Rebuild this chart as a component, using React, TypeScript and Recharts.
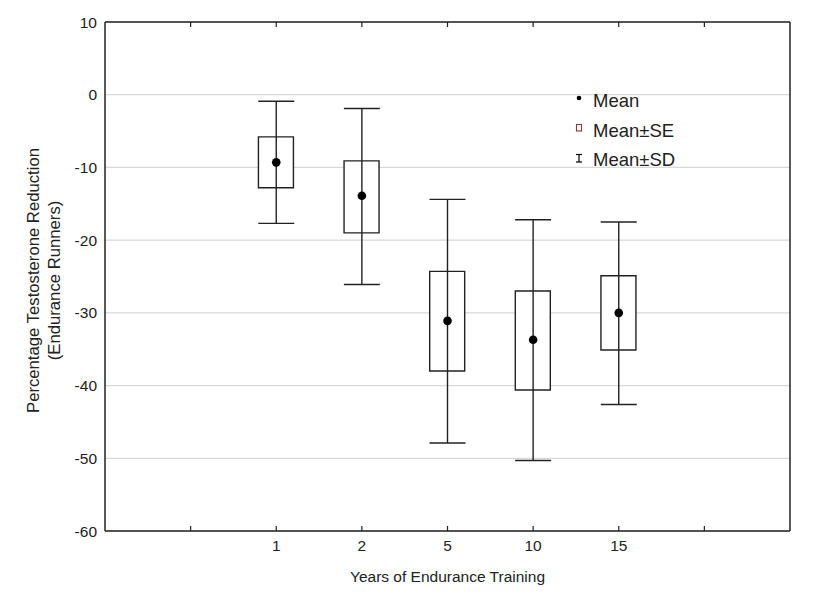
import {
  ComposedChart, Bar, Scatter, ErrorBar, XAxis, YAxis, CartesianGrid, Legend
} from 'recharts'

const years = ['1', '2', '5', '10', '15']
const means = [-9.3, -13.9, -31.1, -33.7, -30.0]
const seLow = [-12.8, -19.0, -38.0, -40.6, -35.1]
const seHigh = [-5.8, -9.1, -24.3, -27.0, -24.9]
const sdLow = [-17.7, -26.1, -47.9, -50.3, -42.6]
const sdHigh = [-0.9, -1.9, -14.4, -17.2, -17.5]
const yTicks = [10, 0, -10, -20, -30, -40, -50, -60]
const xSlots = [1, 2, 3, 4, 5, 6, 7]
const legendItems = ['Mean', 'Mean±SE', 'Mean±SD']

// first year sits on slot 2, slots 1 and 7 stay empty
const chartData = years.map((year, i) => ({
  pos: i + 2,
  year,
  mean: means[i],
  se: [seLow[i], seHigh[i]],
  sdErr: [means[i] - sdLow[i], sdHigh[i] - means[i]],
}))

const tickLabel = (v: number) => years[v - 2] ?? ''
const ink = '#222'

function BottomTick(props: any) {
  const { x, y, payload } = props
  return (
    <g>
      <line x1={x} y1={y} x2={x} y2={y - 5} stroke={ink} strokeWidth={1.2} />
      <text x={x} y={y + 20} textAnchor="middle" fontSize={15.5} fill={ink}>
        {tickLabel(payload.value)}
      </text>
    </g>
  )
}

function TopTick(props: any) {
  const { x, y } = props
  return <line x1={x} y1={y} x2={x} y2={y + 5} stroke={ink} strokeWidth={1.2} />
}

function MeanDot(props: any) {
  const { cx, cy } = props
  return <circle cx={cx} cy={cy} r={4.3} fill="#000" />
}

function NoDot() {
  return <g />
}

function YLabel(props: any) {
  const { viewBox } = props
  const cy = viewBox.y + viewBox.height / 2 + 4
  return (
    <g fontSize={16.7} fill={ink}>
      <text transform={`translate(27, ${cy}) rotate(-90)`} textAnchor="middle" dominantBaseline="middle">
        Percentage Testosterone Reduction
      </text>
      <text transform={`translate(48, ${cy}) rotate(-90)`} textAnchor="middle" dominantBaseline="middle">
        (Endurance Runners)
      </text>
    </g>
  )
}

function LegendBox() {
  return (
    <div style={{ fontSize: 18.5, color: ink, lineHeight: '29.5px' }}>
      {legendItems.map((name, i) => (
        <div key={name} style={{ display: 'flex', alignItems: 'center' }}>
          <svg width={20} height={14} style={{ marginRight: 1 }}>
            {i === 0 && <circle cx={7} cy={4} r={2.3} fill="#000" />}
            {i === 1 && <rect x={4.5} y={1.5} width={5} height={6.5} fill="none" stroke="#8b3a3a" strokeWidth={1.1} />}
            {i === 2 && (
              <g stroke="#000" strokeWidth={1.2}>
                <line x1={4} y1={1.5} x2={10} y2={1.5} />
                <line x1={7} y1={1.5} x2={7} y2={9} />
                <line x1={4} y1={9} x2={10} y2={9} />
              </g>
            )}
          </svg>
          <span>{name}</span>
        </div>
      ))}
    </div>
  )
}

export default function App() {
  return (
    <div style={{ fontFamily: '"Liberation Sans", Arial, sans-serif' }}>
      <ComposedChart
        width={816}
        height={594}
        data={chartData}
        margin={{ top: 13, right: 33, bottom: 0, left: 0 }}
      >
        <CartesianGrid vertical={false} stroke="#d9d9d9" strokeWidth={1.2} />
        <XAxis
          dataKey="pos"
          type="number"
          domain={[0, 8]}
          ticks={xSlots}
          interval={0}
          height={71}
          tickLine={false}
          tickSize={0}
          tickMargin={0}
          tick={<BottomTick />}
          axisLine={{ stroke: ink, strokeWidth: 1.5 }}
          label={{ value: 'Years of Endurance Training', position: 'insideBottom', offset: 20, fontSize: 15.5, fill: ink }}
        />
        <XAxis
          xAxisId="top"
          orientation="top"
          dataKey="pos"
          type="number"
          domain={[0, 8]}
          ticks={xSlots}
          interval={0}
          height={1}
          tickLine={false}
          tickSize={0}
          tickMargin={0}
          tick={<TopTick />}
          axisLine={{ stroke: ink, strokeWidth: 1.5 }}
        />
        <YAxis
          type="number"
          domain={[-60, 10]}
          ticks={yTicks}
          interval={0}
          width={97}
          tickLine={false}
          tickMargin={2}
          tick={{ fontSize: 15.5, fill: ink }}
          axisLine={{ stroke: ink, strokeWidth: 1.5 }}
          label={{ content: <YLabel /> }}
        />
        <YAxis
          yAxisId="right"
          orientation="right"
          type="number"
          domain={[-60, 10]}
          width={1}
          tick={false}
          tickLine={false}
          axisLine={{ stroke: ink, strokeWidth: 1.5 }}
        />
        <Legend
          layout="vertical"
          align="center"
          verticalAlign="middle"
          content={<LegendBox />}
          wrapperStyle={{ left: 564, top: 78, width: 'auto' }}
        />
        <Scatter dataKey="mean" shape={<NoDot />} isAnimationActive={false} legendType="none">
          <ErrorBar dataKey="sdErr" direction="y" width={18} stroke={ink} strokeWidth={1.4} isAnimationActive={false} />
        </Scatter>
        <Bar dataKey="se" barSize={35} fill="#fff" stroke={ink} strokeWidth={1.4} isAnimationActive={false} />
        <Scatter dataKey="mean" shape={<MeanDot />} isAnimationActive={false} />
      </ComposedChart>
    </div>
  )
}
